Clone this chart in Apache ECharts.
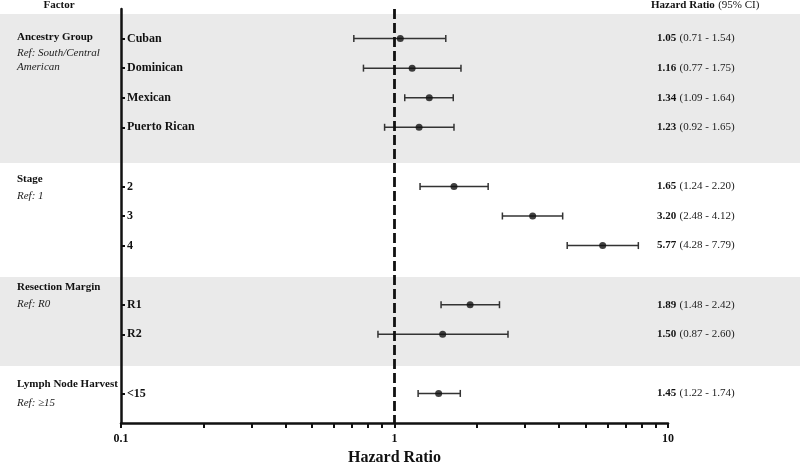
<!DOCTYPE html>
<html><head><meta charset="utf-8">
<script src="https://cdn.jsdelivr.net/npm/echarts@6/dist/echarts.min.js"></script>
<style>html,body{margin:0;padding:0;background:#fff}#c{width:800px;height:463px}</style>
</head><body><div id="c"></div>
<script>
// rows of the forest plot (blank entries are spacer rows)
const rowLabels = ['', 'Cuban', 'Dominican', 'Mexican', 'Puerto Rican', '', '2', '3', '4', '', 'R1', 'R2', '', '<15', ''];
const rowIndex = [1, 2, 3, 4, 6, 7, 8, 10, 11, 13];
const hr = [1.05, 1.16, 1.34, 1.23, 1.65, 3.20, 5.77, 1.89, 1.50, 1.45];
const lo = [0.71, 0.77, 1.09, 0.92, 1.24, 2.48, 4.28, 1.48, 0.87, 1.22];
const hi = [1.54, 1.75, 1.64, 1.65, 2.20, 4.12, 7.79, 2.42, 2.60, 1.74];
const xTickValues = [0.1, 0.2, 0.3, 0.4, 0.5, 0.6, 0.7, 0.8, 0.9, 1, 2, 3, 4, 5, 6, 7, 8, 9, 10];
const xLabelValues = [0.1, 1, 10];
const groups = [
  { title: 'Ancestry Group', ref: ['Ref: South/Central', 'American'] },
  { title: 'Stage', ref: ['Ref: 1'] },
  { title: 'Resection Margin', ref: ['Ref: R0'] },
  { title: 'Lymph Node Harvest', ref: ['Ref: \u226515'] }
];

const FONT = '"Liberation Serif", "Times New Roman", serif';
const chart = echarts.init(document.getElementById('c'));

const hrText = {};
rowIndex.forEach((r, i) => { hrText[r] = '{b|' + hr[i].toFixed(2) + '} {n|(' + lo[i].toFixed(2) + ' - ' + hi[i].toFixed(2) + ')}'; });

// layout (pixel) positions for decorations
const groupY = [[37, 53, 67], [179, 196], [287, 304], [384, 403]];
const bands = [[14, 163], [277, 366]];

const graphic = [];
bands.forEach(b => graphic.push({ type: 'rect', z: -10, silent: true, shape: { x: 0, y: b[0], width: 800, height: b[1] - b[0] }, style: { fill: '#eaeaea' } }));
graphic.push({ type: 'text', x: 59, y: 5, style: { text: 'Factor', font: 'bold 11px ' + FONT, fill: '#111', align: 'center', verticalAlign: 'middle' } });
graphic.push({ type: 'text', x: 651, y: 5, style: { text: '{b|Hazard Ratio} {n|(95% CI)}', fill: '#111', verticalAlign: 'middle',
  rich: { b: { font: 'bold 11px ' + FONT, fill: '#111' }, n: { font: '11px ' + FONT, fill: '#111' } } } });
groups.forEach((g, gi) => {
  const ys = groupY[gi];
  graphic.push({ type: 'text', x: 17, y: ys[0], style: { text: g.title, font: 'bold 11px ' + FONT, fill: '#111', verticalAlign: 'middle' } });
  g.ref.forEach((t, k) => graphic.push({ type: 'text', x: 17, y: ys[k + 1], style: { text: t, font: 'italic 11px ' + FONT, fill: '#222', verticalAlign: 'middle' } }));
});

const option = {
  animation: false,
  backgroundColor: '#fff',
  graphic: graphic,
  grid: { left: 121, right: 132, top: 9, bottom: 40, outerBoundsMode: 'none', containLabel: false },
  xAxis: {
    type: 'log', logBase: 10, min: 0.1, max: 10,
    name: 'Hazard Ratio', nameLocation: 'middle', nameGap: 20,
    nameTextStyle: { fontFamily: FONT, fontWeight: 'bold', fontSize: 16, color: '#111' },
    axisLine: { show: true, lineStyle: { color: '#111', width: 2.5 } },
    axisTick: { show: true, length: 5, customValues: xTickValues, lineStyle: { color: '#111', width: 2 } },
    axisLabel: { customValues: xLabelValues, formatter: v => String(v), fontFamily: FONT, fontWeight: 'bold', fontSize: 12, color: '#111', margin: 10 },
    splitLine: { show: false }, minorTick: { show: false }
  },
  yAxis: [{
    type: 'category', data: rowLabels, inverse: true, boundaryGap: false,
    axisLine: { show: true, lineStyle: { color: '#111', width: 2.5 } },
    axisTick: { show: true, inside: true, length: 4, interval: (i, v) => v !== '', lineStyle: { color: '#111', width: 2 } },
    axisLabel: { inside: true, margin: 6, interval: 0, fontFamily: FONT, fontWeight: 'bold', fontSize: 12, color: '#111' },
    splitLine: { show: false }
  }, {
    type: 'category', data: rowLabels, inverse: true, boundaryGap: false,
    position: 'left', offset: -536,
    axisLine: { show: false }, axisTick: { show: false },
    axisLabel: { inside: true, margin: 0, interval: 0, formatter: (v, i) => hrText[i] || '',
      rich: { b: { fontFamily: FONT, fontWeight: 'bold', fontSize: 11, color: '#111' }, n: { fontFamily: FONT, fontSize: 11, color: '#222' } } },
    splitLine: { show: false }
  }],
  series: [{
    type: 'custom',
    data: rowIndex.map((r, i) => [lo[i], hi[i], r]),
    encode: { x: [0, 1], y: 2 },
    renderItem: (params, api) => {
      const a = api.coord([api.value(0), api.value(2)]);
      const b = api.coord([api.value(1), api.value(2)]);
      const s = { stroke: '#333', lineWidth: 1.5 };
      return { type: 'group', children: [
        { type: 'line', shape: { x1: a[0], y1: a[1], x2: b[0], y2: b[1] }, style: s },
        { type: 'line', shape: { x1: a[0], y1: a[1] - 3.5, x2: a[0], y2: a[1] + 3.5 }, style: s },
        { type: 'line', shape: { x1: b[0], y1: b[1] - 3.5, x2: b[0], y2: b[1] + 3.5 }, style: s }
      ] };
    }
  }, {
    type: 'scatter', symbol: 'circle', symbolSize: 7, z: 5,
    itemStyle: { color: '#111' },
    data: rowIndex.map((r, i) => [hr[i], r]),
    markLine: { silent: true, symbol: 'none', label: { show: false },
      lineStyle: { color: '#111', width: 2.8, type: [10, 4] },
      data: [{ xAxis: 1 }] }
  }]
};
chart.setOption(option);
</script></body></html>
